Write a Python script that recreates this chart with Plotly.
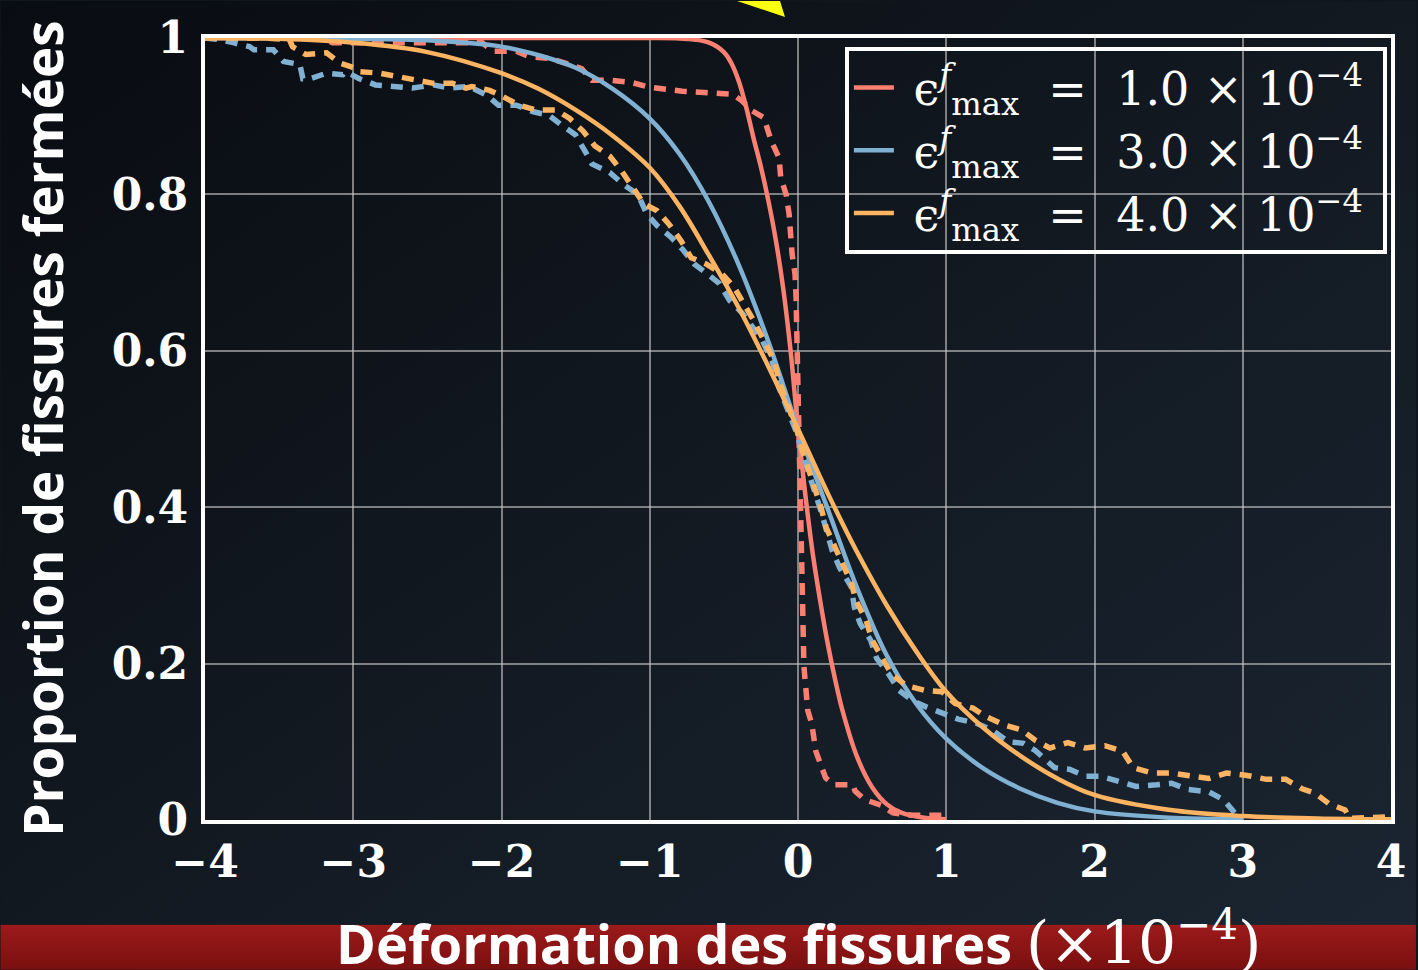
import base64
import plotly.graph_objects as go

# ---------------- data ----------------
# solid model curves
red_x = [-4, -1.0, -0.8, -0.7, -0.6, -0.5, -0.45, -0.4, -0.35, -0.3, -0.25, -0.2, -0.15, -0.1, -0.05, 0,
         0.05, 0.1, 0.15, 0.2, 0.25, 0.3, 0.4, 0.5, 0.6, 0.7, 0.85, 1.0]
red_y = [1, 1.0, 0.9995, 0.998, 0.994, 0.982, 0.968, 0.945, 0.912, 0.872, 0.835, 0.792, 0.742, 0.68, 0.6, 0.5,
         0.415, 0.34, 0.28, 0.226, 0.18, 0.14, 0.08, 0.042, 0.02, 0.009, 0.003, 0.001]

blue_x = [-4, -3.0, -2.5, -2.0, -1.75, -1.5, -1.25, -1.0, -0.8, -0.6, -0.4, -0.2, 0,
          0.2, 0.4, 0.6, 0.8, 1.0, 1.25, 1.5, 1.75, 2.0, 2.5, 3.0]
blue_y = [1, 0.999, 0.997, 0.989, 0.978, 0.962, 0.935, 0.897, 0.852, 0.79, 0.71, 0.612, 0.5,
          0.398, 0.296, 0.21, 0.148, 0.104, 0.066, 0.04, 0.022, 0.011, 0.003, 0.001]

orange_x = [-4, -3.5, -3.0, -2.5, -2.0, -1.75, -1.5, -1.25, -1.0, -0.8, -0.6, -0.4, -0.2, 0,
            0.2, 0.4, 0.6, 0.8, 1.0, 1.25, 1.5, 1.75, 2.0, 2.5, 3.0, 3.5, 4.0]
orange_y = [1.0, 0.999, 0.994, 0.982, 0.955, 0.935, 0.908, 0.875, 0.834, 0.785, 0.722, 0.655, 0.58, 0.5,
            0.418, 0.342, 0.274, 0.215, 0.164, 0.118, 0.082, 0.053, 0.032, 0.013, 0.005, 0.002, 0.001]

# dashed empirical curves
red_d_x = [-4, -3.2, -3.14, -2.13, -2.06, -1.9, -1.81, -1.68, -1.57, -1.46, -1.39, -1.27, -1.12, -1.0,
           -0.78, -0.44, -0.38, -0.31, -0.23, -0.18, -0.128, -0.116, -0.08, -0.06, -0.04, -0.02, -0.013,
           -0.007, 0, 0.007, 0.011, 0.021, 0.032, 0.04, 0.066, 0.093, 0.12, 0.186, 0.24, 0.37, 0.385, 0.45,
           0.56, 0.64, 0.77, 0.876, 1.0]
red_d_y = [1, 1, 0.994, 0.994, 0.983, 0.983, 0.976, 0.974, 0.968, 0.961, 0.946, 0.946, 0.943, 0.937,
           0.932, 0.928, 0.92, 0.907, 0.898, 0.868, 0.847, 0.821, 0.80, 0.775, 0.724, 0.698, 0.668,
           0.617, 0.562, 0.51, 0.43, 0.329, 0.26, 0.196, 0.14, 0.123, 0.088, 0.054, 0.045, 0.045, 0.037, 0.026,
           0.019, 0.009, 0.006, 0.006, 0.006]

blue_d_x = [-4, -3.9, -3.81, -3.70, -3.67, -3.54, -3.47, -3.36, -3.34, -3.29, -3.18, -3.07, -3.05, -2.96,
            -2.85, -2.73, -2.6, -2.46, -2.35, -2.22, -2.1, -2.02, -1.9, -1.79, -1.68, -1.59, -1.5, -1.43,
            -1.39, -1.27, -1.18, -1.08, -1.02, -0.95, -0.855, -0.78, -0.70, -0.61, -0.53, -0.46, -0.38,
            -0.32, -0.24, -0.175, -0.128, -0.06, -0.015, 0.045, 0.1, 0.16, 0.23, 0.28, 0.36, 0.38, 0.42,
            0.49, 0.53, 0.61, 0.68, 0.77, 0.86, 0.96, 1.08, 1.2, 1.31, 1.42, 1.52, 1.6, 1.73, 1.83, 1.94,
            2.04, 2.18, 2.28, 2.42, 2.52, 2.63, 2.77, 2.87, 2.96, 3.0]
blue_d_y = [1.0, 0.998, 0.994, 0.989, 0.985, 0.985, 0.97, 0.966, 0.948, 0.948, 0.955, 0.953, 0.957, 0.948,
            0.94, 0.938, 0.936, 0.94, 0.936, 0.938, 0.927, 0.914, 0.914, 0.906, 0.901, 0.888, 0.876, 0.853,
            0.839, 0.828, 0.813, 0.80, 0.775, 0.76, 0.745, 0.73, 0.711, 0.698, 0.686, 0.664, 0.649,
            0.634, 0.613, 0.587, 0.553, 0.52, 0.498, 0.46, 0.43, 0.392, 0.345, 0.323, 0.298, 0.272, 0.251,
            0.23, 0.207, 0.187, 0.166, 0.153, 0.145, 0.138, 0.129, 0.124, 0.115, 0.1, 0.098, 0.089, 0.067, 0.065, 0.056,
            0.056, 0.049, 0.043, 0.045, 0.047, 0.039, 0.036, 0.026, 0.006, 0.002]

orange_d_x = [-4, -3.59, -3.43, -3.41, -3.32, -3.18, -3.09, -2.98, -2.96, -2.82, -2.71, -2.58, -2.46, -2.33,
              -2.24, -2.2, -2.08, -1.99, -1.88, -1.77, -1.63, -1.54, -1.45, -1.37, -1.27, -1.19, -1.12,
              -1.04, -0.95, -0.87, -0.79, -0.72, -0.62, -0.51, -0.43, -0.36, -0.30, -0.23, -0.16, -0.128,
              -0.08, -0.007, 0.03, 0.074, 0.12, 0.155, 0.19, 0.255, 0.30, 0.36, 0.39, 0.46, 0.5, 0.565,
              0.63, 0.73, 0.85, 0.97, 1.06, 1.18, 1.27, 1.4, 1.51, 1.6, 1.70, 1.82, 1.94, 2.07, 2.19, 2.26,
              2.39, 2.52, 2.65, 2.77, 2.89, 3.03, 3.16, 3.29, 3.4, 3.49, 3.58, 3.69, 3.72, 3.85, 3.96, 4.0]
orange_d_y = [1.0, 1.0, 0.998, 0.989, 0.979, 0.981, 0.968, 0.961, 0.957, 0.955, 0.951, 0.946, 0.942, 0.942,
              0.936, 0.938, 0.933, 0.925, 0.914, 0.908, 0.908, 0.897, 0.881, 0.862, 0.849, 0.83, 0.809,
              0.788, 0.779, 0.762, 0.741, 0.719, 0.711, 0.698, 0.681, 0.66, 0.639, 0.613, 0.587, 0.562,
              0.536, 0.498, 0.472, 0.447, 0.421, 0.40, 0.374, 0.349, 0.328, 0.303, 0.281, 0.255, 0.23, 0.208,
              0.187, 0.172, 0.166, 0.164, 0.149, 0.143, 0.132, 0.121, 0.115, 0.102, 0.092, 0.099, 0.092, 0.095,
              0.088, 0.067, 0.06, 0.06, 0.057, 0.053, 0.06, 0.057, 0.052, 0.052, 0.04, 0.034, 0.021, 0.013,
              0.002, 0.004, 0.004, 0.004]

NB = "\u00a0"
legend_values = ["1.0", "3.0", "4.0"]
legend_names = [f"{NB}ϵ<sup><i>f</i></sup><sub>max</sub>{NB}{NB}={NB}{NB}{v}{NB}×{NB}10<sup>−4</sup>{NB}"
                for v in legend_values]
colors = ["#fb8072", "#80b1d3", "#fdb462"]

x_tickvals = [-4, -3, -2, -1, 0, 1, 2, 3, 4]
x_ticktext = ["−4", "−3", "−2", "−1", "0", "1", "2", "3", "4"]
y_tickvals = [0, 0.2, 0.4, 0.6, 0.8, 1]
y_ticktext = ["0", "0.2", "0.4", "0.6", "0.8", "1"]

# ---------------- figure ----------------
W, H = 1418, 970
L, R, T, B = 205, 25, 37, 150
PW, PH = W - L - R, H - T - B

svg = f"""<svg xmlns='http://www.w3.org/2000/svg' width='{W}' height='{H}' viewBox='0 0 {W} {H}' preserveAspectRatio='none'>
<defs>
<linearGradient id='bg' x1='0' y1='0' x2='1' y2='1'>
<stop offset='0' stop-color='#090c11'/><stop offset='1' stop-color='#1b2632'/></linearGradient>
<linearGradient id='rb' x1='0' y1='0' x2='0' y2='1'>
<stop offset='0' stop-color='#9c1a1a'/><stop offset='1' stop-color='#7a0f0f'/></linearGradient>
</defs>
<rect x='0' y='0' width='{W}' height='{H}' fill='url(#bg)'/>
<rect x='0' y='925' width='{W}' height='{H - 925}' fill='url(#rb)'/>
<polygon points='738,0 786,16 781,0' fill='#ffff10'/>
</svg>"""
svg_uri = "data:image/svg+xml;base64," + base64.b64encode(svg.encode("utf-8")).decode("ascii")

fig = go.Figure()

solids = [(red_x, red_y), (blue_x, blue_y), (orange_x, orange_y)]
dashes = [(red_d_x, red_d_y), (blue_d_x, blue_d_y), (orange_d_x, orange_d_y)]
for i in range(3):
    fig.add_trace(go.Scatter(x=solids[i][0], y=solids[i][1], mode="lines", name=legend_names[i],
                             line=dict(color=colors[i], width=4.5, shape="spline", smoothing=1.0)))
    fig.add_trace(go.Scatter(x=dashes[i][0], y=dashes[i][1], mode="lines", showlegend=False,
                             line=dict(color=colors[i], width=5.5, dash="12px,9px")))

tick_font = dict(family="DejaVu Serif", size=44, color="white", weight="bold")

fig.update_layout(
    width=W, height=H,
    margin=dict(l=L, r=R, t=T, b=B),
    paper_bgcolor="#10161e",
    plot_bgcolor="rgba(0,0,0,0)",
    showlegend=True,
    legend=dict(x=(846 - L) / PW, y=1 - (46 - T) / PH, xanchor="left", yanchor="top",
                bgcolor="rgba(0,0,0,0)", bordercolor="white", borderwidth=4,
                font=dict(family="DejaVu Serif", size=46, color="white"),
                itemwidth=40, tracegroupgap=0),
    images=[dict(source=svg_uri, xref="paper", yref="paper",
                 x=-L / PW, y=1 + T / PH, sizex=W / PW, sizey=H / PH,
                 xanchor="left", yanchor="top", sizing="stretch", layer="below")],
    xaxis=dict(range=[-4, 4], tickvals=x_tickvals, ticktext=x_ticktext, tickfont=tick_font,
               showgrid=True, gridcolor="rgba(200,200,200,0.6)", gridwidth=1.5, zeroline=False,
               showline=True, linecolor="white", linewidth=4, mirror=True, ticks="", ticklen=0,
               ticklabelstandoff=0, layer="below traces"),
    yaxis=dict(range=[0, 1], tickvals=y_tickvals, ticktext=y_ticktext, tickfont=tick_font,
               showgrid=True, gridcolor="rgba(200,200,200,0.6)", gridwidth=1.5, zeroline=False,
               showline=True, linecolor="white", linewidth=4, mirror=True, ticks="", ticklen=0,
               ticklabelstandoff=4, layer="below traces"),
    annotations=[
        dict(text="Proportion de fissures fermées", xref="paper", yref="paper",
             x=(42 - L) / PW, y=(820 - 428) / PH, xanchor="center", yanchor="middle", textangle=-90,
             showarrow=False, font=dict(family="Open Sans", size=53, color="white", weight="bold")),
        dict(text="Déformation des fissures <span style='font-family:DejaVu Serif;font-weight:normal;font-size:60px'>(×10<sup>−4</sup>)</span>",
             xref="paper", yref="paper", x=(800 - L) / PW, y=(820 - 940) / PH, xanchor="center", yanchor="middle",
             showarrow=False, font=dict(family="Open Sans", size=54, color="white", weight="bold")),
    ],
)

fig.write_html("out.html")
